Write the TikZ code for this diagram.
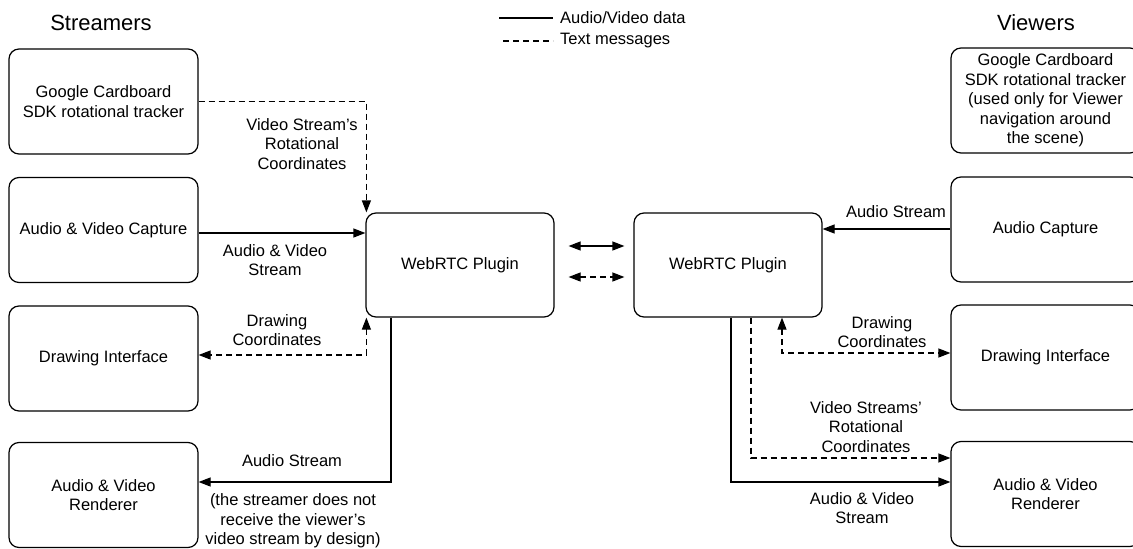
\documentclass[tikz,border=0pt]{standalone}
\usepackage{fontspec}
\setmainfont{Liberation Sans}
\usetikzlibrary{arrows.meta}
\tikzset{
  txt/.style={font=\fontsize{16.5}{19.5}\selectfont, align=center, inner sep=1pt},
  head/.style={font=\fontsize{22}{26}\selectfont, inner sep=1pt},
  box/.style={txt, draw, line width=1.2pt, rounded corners=10pt,
              minimum width=189pt, minimum height=105pt},
  plug/.style={box, minimum width=188pt, minimum height=104pt},
  link/.style={line width=1.2pt, -{Triangle[length=12pt,width=9pt]}},
  link2/.style={line width=1.2pt, {Triangle[length=12pt,width=9pt]}-{Triangle[length=12pt,width=9pt]}},
  msg/.style={dash pattern=on 6pt off 4pt},
}
\begin{document}
\begin{tikzpicture}[x=1pt,y=-1pt]
\useasboundingbox (0,0) rectangle (1133,549);
\clip (0,0) rectangle (1133,549);

% column titles
\node[head] (tstream) at (101,23) {Streamers};
\node[head] (tview) at (1036,23) {Viewers};

% legend
\coordinate (la1) at (499,18);
\coordinate (la2) at (553,18);
\coordinate (lb1) at (503,41);
\coordinate (lb2) at (553,41);
\draw[line width=1.2pt] (la1) -- (la2);
\draw[line width=1.2pt, msg] (lb1) -- (lb2);
\node[txt, anchor=west] (lega) at (559,18) {Audio/Video data};
\node[txt, anchor=west] (legb) at (559,41) {Text messages};

% streamer side
\node[box] (gc)  at (103.5,101.5) {Google Cardboard\\SDK rotational tracker};
\node[box] (avc) at (103.5,230) {Audio \& Video Capture};
\node[box] (di)  at (103.5,358.5) {Drawing Interface};
\node[box] (avr) at (103.5,495) {Audio \& Video\\Renderer};
\node[plug] (lw) at (460,265) {WebRTC Plugin};

% viewer side
\node[plug] (rw) at (728,265) {WebRTC Plugin};
\node[box] (rgc) at (1045.5,100.5) {Google Cardboard\\SDK rotational tracker\\(used only for Viewer\\navigation around\\the scene)};
\node[box] (rac) at (1045.5,229.5) {Audio Capture};
\node[box] (rdi) at (1045.5,357.5) {Drawing Interface};
\node[box] (rr)  at (1045.5,494) {Audio \& Video\\Renderer};

% streamer connectors
\draw[link, msg] (gc.east) -| ([xshift=1pt]lw.north west);
\draw[link] (avc.east |- 0,233) -- (lw.west |- 0,233);
\draw[link2, msg] ([xshift=1pt]lw.south west) |- (di.east |- 0,355);
\draw[link] (lw.south -| 391,0) |- (avr.east |- 0,482);

% plugin to plugin
\draw[link2, shorten <=14pt, shorten >=9pt] (lw.east |- 0,246) -- (rw.west |- 0,246);
\draw[link2, msg, shorten <=14pt, shorten >=9pt] (lw.east |- 0,277) -- (rw.west |- 0,277);

% viewer connectors
\draw[link] (rac.west |- 0,229) -- (rw.east |- 0,229);
\draw[link] (rw.south -| 731,0) |- (rr.west |- 0,482);
\draw[link, msg] (rw.south -| 751,0) |- (rr.west |- 0,458);
\draw[link2, msg] (rw.south -| 782,0) |- (rdi.west |- 0,353);

% connector labels
\node[txt] (l1) at (302,144) {Video Stream’s\\Rotational\\Coordinates};
\node[txt] (l2) at (275,260) {Audio \& Video\\Stream};
\node[txt] (l3) at (277,330) {Drawing\\Coordinates};
\node[txt] (l4) at (292,461) {Audio Stream};
\node[txt] (l5) at (293,521) {(the streamer does not\\receive the viewer’s\\video stream by design)};
\node[txt] (l6) at (896,212) {Audio Stream};
\node[txt] (l7) at (882,332) {Drawing\\Coordinates};
\node[txt] (l8) at (866,427) {Video Streams’\\Rotational\\Coordinates};
\node[txt] (l9) at (862,508) {Audio \& Video\\Stream};
\end{tikzpicture}
\end{document}
